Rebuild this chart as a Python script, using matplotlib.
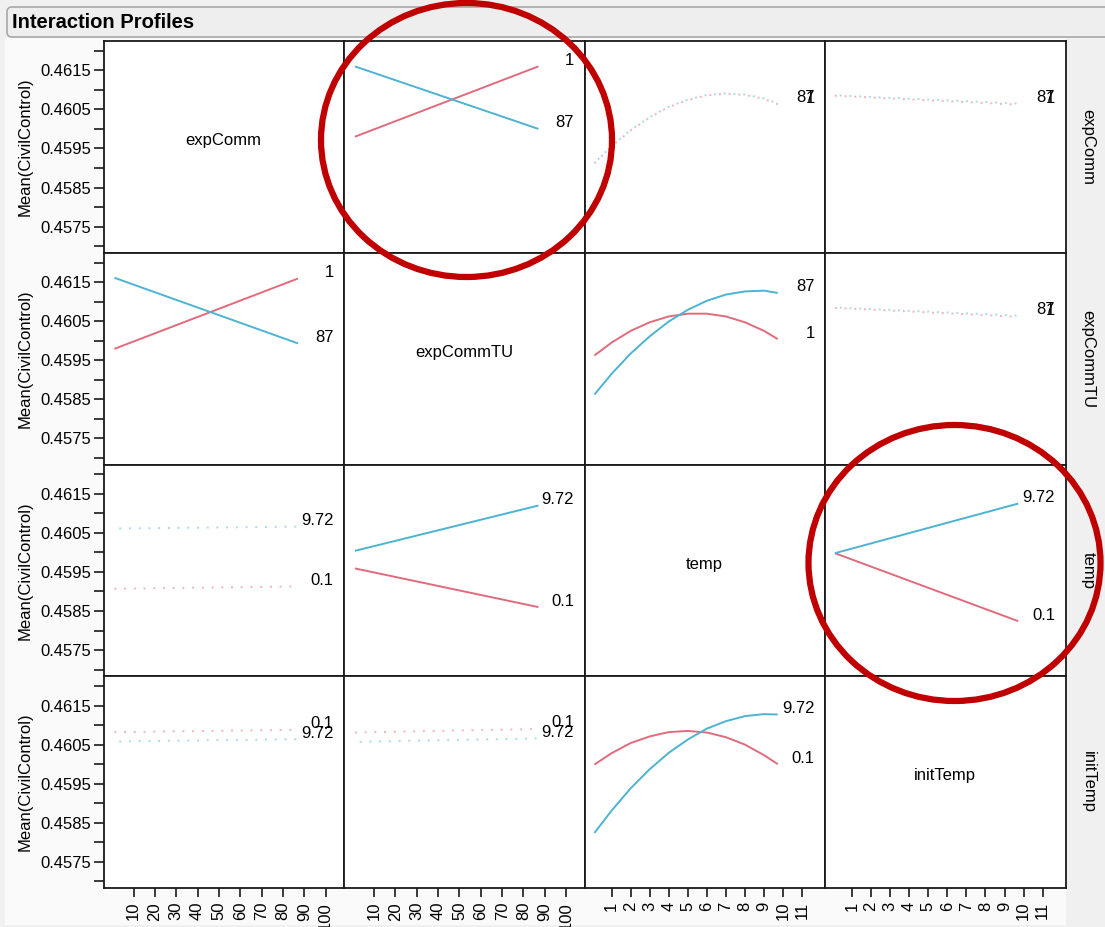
import matplotlib
matplotlib.use('Agg')
import matplotlib.pyplot as plt
from matplotlib.patches import Ellipse, FancyBboxPatch, Rectangle
from matplotlib.transforms import blended_transform_factory, offset_copy, IdentityTransform

plt.rcParams['font.family'] = ['Liberation Sans', 'DejaVu Sans']

# ---------------- data ----------------
FACTORS = ['expComm', 'expCommTU', 'temp', 'initTemp']
LEVEL_LABELS = {'expComm': ['1', '87'], 'expCommTU': ['1', '87'],
                'temp': ['0.1', '9.72'], 'initTemp': ['0.1', '9.72']}

EXP_X = [1, 87]                 # expComm / expCommTU range
LIN_X = [0.1, 9.72]             # initTemp range
TEMP_X = [0.1, 1, 2, 3, 4, 5, 6, 7, 8, 9, 9.72]

# row expComm
r1_expCommTU_red = [0.4598, 0.4616]
r1_expCommTU_blue = [0.4616, 0.4600]
r1_temp_red = [0.45912, 0.45955, 0.45996, 0.46029, 0.46056, 0.46074, 0.46086, 0.46090, 0.46087, 0.46077, 0.46063]
r1_temp_blue = [0.45913, 0.45956, 0.45997, 0.46030, 0.46057, 0.46075, 0.46087, 0.46091, 0.46088, 0.46078, 0.46065]
r1_initTemp_red = [0.46085, 0.46062]
r1_initTemp_blue = [0.46086, 0.46065]

# row expCommTU
r2_expComm_red = [0.45979, 0.46159]
r2_expComm_blue = [0.46161, 0.45993]
r2_temp_red = [0.45962, 0.45995, 0.46025, 0.46047, 0.46062, 0.46069, 0.46069, 0.46062, 0.46047, 0.46025, 0.46004]
r2_temp_blue = [0.45862, 0.45915, 0.45967, 0.46011, 0.46049, 0.46079, 0.46102, 0.46118, 0.46126, 0.46128, 0.46122]
r2_initTemp_red = [0.46084, 0.46061]
r2_initTemp_blue = [0.46085, 0.46064]

# row temp
r3_expComm_red = [0.45907, 0.45913]
r3_expComm_blue = [0.46061, 0.46066]
r3_expCommTU_red = [0.45959, 0.45860]
r3_expCommTU_blue = [0.46004, 0.46120]
r3_initTemp_red = [0.45998, 0.45824]
r3_initTemp_blue = [0.45998, 0.46125]

# row initTemp
r4_expComm_red = [0.46082, 0.46088]
r4_expComm_blue = [0.46058, 0.46064]
r4_expCommTU_red = [0.46081, 0.46090]
r4_expCommTU_blue = [0.46057, 0.46066]
r4_temp_red = [0.45999, 0.46028, 0.46054, 0.46071, 0.46082, 0.46085, 0.46081, 0.46069, 0.46050, 0.46023, 0.46000]
r4_temp_blue = [0.45824, 0.45881, 0.45938, 0.45987, 0.46029, 0.46063, 0.46091, 0.46110, 0.46123, 0.46128, 0.46127]

# (row, col) -> (x, red, blue, solid?)
PANELS = {
    (0, 1): (EXP_X, r1_expCommTU_red, r1_expCommTU_blue, True),
    (0, 2): (TEMP_X, r1_temp_red, r1_temp_blue, False),
    (0, 3): (LIN_X, r1_initTemp_red, r1_initTemp_blue, False),
    (1, 0): (EXP_X, r2_expComm_red, r2_expComm_blue, True),
    (1, 2): (TEMP_X, r2_temp_red, r2_temp_blue, True),
    (1, 3): (LIN_X, r2_initTemp_red, r2_initTemp_blue, False),
    (2, 0): (EXP_X, r3_expComm_red, r3_expComm_blue, False),
    (2, 1): (EXP_X, r3_expCommTU_red, r3_expCommTU_blue, True),
    (2, 3): (LIN_X, r3_initTemp_red, r3_initTemp_blue, True),
    (3, 0): (EXP_X, r4_expComm_red, r4_expComm_blue, False),
    (3, 1): (EXP_X, r4_expCommTU_red, r4_expCommTU_blue, False),
    (3, 2): (TEMP_X, r4_temp_red, r4_temp_blue, True),
}

Y_MAJOR = [0.4575, 0.4585, 0.4595, 0.4605, 0.4615]
Y_MINOR = [0.4570, 0.4580, 0.4590, 0.4600, 0.4610, 0.4620]
Y_LABELS = ['0.4575', '0.4585', '0.4595', '0.4605', '0.4615']
X_TICKS_EXP = [10, 20, 30, 40, 50, 60, 70, 80, 90, 100]
X_TICKS_TEMP = [1, 2, 3, 4, 5, 6, 7, 8, 9, 10, 11]

# ---------------- styling ----------------
W, H, DPI = 1105, 927, 100
RED, BLUE = '#e06b7c', '#4db3d3'
RED_DOT, BLUE_DOT = '#f2b3bc', '#a9d9ea'
FS = 12

fig = plt.figure(figsize=(W / DPI, H / DPI), dpi=DPI, facecolor='#f0f0f0')

# content area
fig.add_artist(Rectangle((5 / W, 1 - 925 / H), (1066 - 5) / W, (925 - 38) / H,
                         transform=fig.transFigure, fc='#fafafa', ec='none', zorder=-5))
# header bar
fig.add_artist(FancyBboxPatch((7, H - 37), 1120, 30, boxstyle='round,pad=0,rounding_size=5',
                              transform=IdentityTransform(), fc='#eeeeee', ec='#a8a8a8', lw=1.2, zorder=-4))
fig.text(12 / W, 1 - 22 / H, 'Interaction Profiles', fontsize=14.5, fontweight='bold',
         ha='left', va='center')

LEFT, RIGHT, TOP, BOTTOM = 103.5, 1065.5, 41, 888
cw = (RIGHT - LEFT) / 4
rh = (BOTTOM - TOP) / 4
YLIM = (0.45683, 0.46225)
XLIM_EXP = (-4.1, 108.6)
XLIM_TEMP = (-0.42, 12.2)

for r in range(4):
    for c in range(4):
        ax = fig.add_axes([(LEFT + c * cw) / W, 1 - (TOP + (r + 1) * rh) / H, cw / W, rh / H])
        ax.set_facecolor('white')
        for s in ax.spines.values():
            s.set_linewidth(1.3)
            s.set_color('#1a1a1a')
        ax.set_ylim(*YLIM)
        ax.set_xlim(*(XLIM_EXP if c < 2 else XLIM_TEMP))

        if c == 0:
            ax.set_yticks(Y_MAJOR)
            ax.set_yticklabels(Y_LABELS, fontsize=FS)
            ax.set_yticks(Y_MINOR, minor=True)
            ax.tick_params(axis='y', which='both', length=7, width=1.2, direction='out', pad=2, color='#1a1a1a')
        else:
            ax.tick_params(axis='y', which='both', left=False, labelleft=False)
        if r == 3:
            ticks = X_TICKS_EXP if c < 2 else X_TICKS_TEMP
            ax.set_xticks(ticks)
            ax.set_xticklabels([str(v) for v in ticks], fontsize=FS, rotation=90)
            ax.tick_params(axis='x', length=6.5, width=1.2, direction='out', pad=3.5, color='#1a1a1a')
        else:
            ax.tick_params(axis='x', bottom=False, labelbottom=False)

        if r == c:
            ax.text(0.5, 0.53, FACTORS[r], transform=ax.transAxes, ha='center', va='center', fontsize=FS)
            continue

        x, red, blue, solid = PANELS[(r, c)]
        if solid:
            ax.plot(x, red, color=RED, lw=1.4, solid_capstyle='butt')
            ax.plot(x, blue, color=BLUE, lw=1.4, solid_capstyle='butt')
        else:
            ax.plot(x, red, color=RED_DOT, lw=1.4, ls=(0, (1, 4)))
            ax.plot(x, blue, color=BLUE_DOT, lw=1.4, ls=(2.5, (1, 4)))
        tr = offset_copy(blended_transform_factory(ax.transAxes, ax.transData),
                         fig=fig, x=0, y=6, units='dots')
        lab_red, lab_blue = LEVEL_LABELS[FACTORS[r]]
        ax.text(0.957, blue[-1], lab_blue, transform=tr, ha='right', va='center', fontsize=FS)
        ax.text(0.957, red[-1], lab_red, transform=tr, ha='right', va='center', fontsize=FS)

    yc = 1 - (TOP + (r + 0.5) * rh) / H
    fig.text(25 / W, yc, 'Mean(CivilControl)', rotation=90, ha='center', va='center', fontsize=FS)
    fig.text(1088 / W, yc, FACTORS[r], rotation=270, ha='center', va='center', fontsize=FS)

# red annotation circles
fig.add_artist(Ellipse((466.5 / W, 1 - 140 / H), 291 / W, 274 / H, transform=fig.transFigure,
                       fill=False, ec='#c00000', lw=4.5, zorder=20))
fig.add_artist(Ellipse((954.5 / W, 1 - 563 / H), 292 / W, 276 / H, transform=fig.transFigure,
                       fill=False, ec='#c00000', lw=4.5, zorder=20))

fig.savefig('out.png', dpi=DPI, facecolor=fig.get_facecolor())
